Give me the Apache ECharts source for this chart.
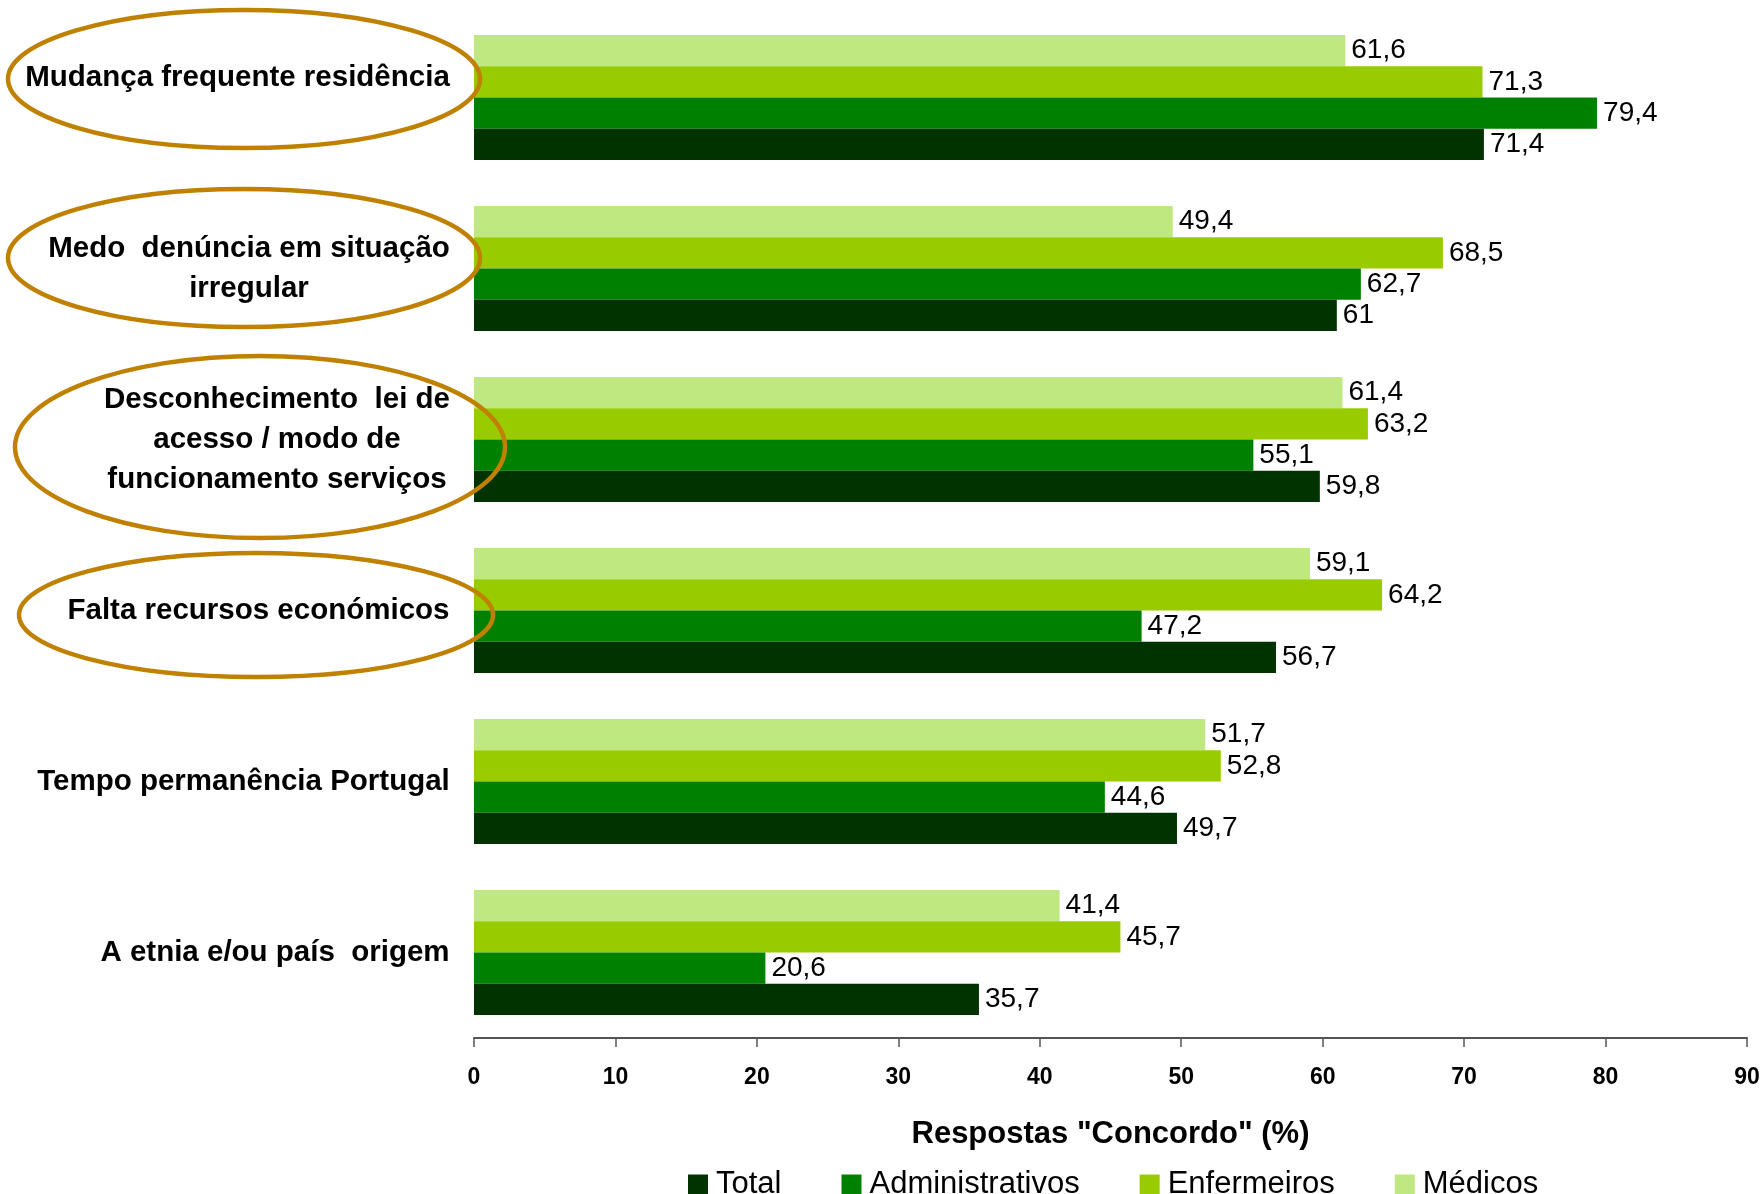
<!DOCTYPE html>
<html>
<head>
<meta charset="utf-8">
<title>Respostas "Concordo" (%)</title>
<script src="https://cdn.jsdelivr.net/npm/echarts@6/dist/echarts.min.js"></script>
<style>
  html, body { margin: 0; padding: 0; background: #ffffff; }
  #chart { width: 1764px; height: 1194px; }
</style>
</head>
<body>
<div id="chart"></div>
<script>
// Barriers to access, one group of bars per reason (top to bottom)
const categories = [
  'Mudança frequente residência\n',
  'Medo  denúncia em situação\nirregular',
  'Desconhecimento  lei de\nacesso / modo de\nfuncionamento serviços',
  'Falta recursos económicos',
  'Tempo permanência Portugal',
  'A etnia e/ou país  origem'
];

const seriesNames = ['Total', 'Administrativos', 'Enfermeiros', 'Médicos'];

const totalValues    = [71.4, 61, 59.8, 56.7, 49.7, 35.7];
const adminValues    = [79.4, 62.7, 55.1, 47.2, 44.6, 20.6];
const nurseValues    = [71.3, 68.5, 63.2, 64.2, 52.8, 45.7];
const doctorValues   = [61.6, 49.4, 61.4, 59.1, 51.7, 41.4];

const xTicks = [0, 10, 20, 30, 40, 50, 60, 70, 80, 90];

const colors = {
  'Total': '#003300',
  'Administrativos': '#008000',
  'Enfermeiros': '#99CC00',
  'Médicos': '#C0E880'
};

const FONT = '"Liberation Sans", Arial, "Helvetica", sans-serif';
const CAT_FONT_SIZE = 29.5;

// Multi-line category labels: lines centred on each other, block right-aligned
const measureCtx = document.createElement('canvas').getContext('2d');
measureCtx.font = 'bold ' + CAT_FONT_SIZE + 'px ' + FONT;
const catRich = {};
categories.forEach((c, i) => {
  const w = Math.max(...c.split('\n').map(l => measureCtx.measureText(l).width));
  catRich['r' + i] = {
    width: Math.ceil(w) + 2,
    align: 'center',
    fontSize: CAT_FONT_SIZE,
    fontWeight: 'bold',
    fontFamily: FONT,
    lineHeight: 40,
    color: '#000000'
  };
});

function barSeries(name, values) {
  return {
    name: name,
    type: 'bar',
    data: values,
    barGap: '0%',
    barCategoryGap: '27%',
    itemStyle: { color: colors[name] },
    label: {
      show: true,
      position: 'right',
      distance: 6,
      color: '#000000',
      fontFamily: FONT,
      fontSize: 28,
      formatter: p => String(p.value).replace('.', ',')
    }
  };
}

const ellipseStyle = { fill: 'none', stroke: '#C08000', lineWidth: 4.5 };

const option = {
  animation: false,
  backgroundColor: '#ffffff',
  grid: { left: 474, right: 17, top: 12, bottom: 156, containLabel: false },
  legend: {
    data: seriesNames,
    left: 683,
    top: 1164,
    itemWidth: 20,
    itemHeight: 20,
    itemGap: 60,
    icon: 'rect',
    textStyle: { fontFamily: FONT, fontSize: 31, color: '#000000', padding: [0, 0, 0, 3] }
  },
  xAxis: {
    type: 'value',
    min: xTicks[0],
    max: xTicks[xTicks.length - 1],
    interval: xTicks[1] - xTicks[0],
    name: 'Respostas "Concordo" (%)',
    nameLocation: 'middle',
    nameGap: 81,
    nameTextStyle: { fontFamily: FONT, fontSize: 31, fontWeight: 'bold', color: '#000000' },
    axisLine: { show: true, lineStyle: { color: '#555555', width: 2 } },
    axisTick: { show: true, length: 9, lineStyle: { color: '#555555', width: 1.5 } },
    axisLabel: {
      margin: 28,
      fontFamily: FONT,
      fontSize: 23,
      fontWeight: 'bold',
      color: '#000000'
    },
    splitLine: { show: false }
  },
  yAxis: {
    type: 'category',
    data: categories,
    inverse: true,
    axisLine: { show: false },
    axisTick: { show: false },
    axisLabel: {
      interval: 0,
      margin: 23,
      align: 'right',
      verticalAlign: 'middle',
      formatter: (value, index) =>
        value.split('\n').map(l => '{r' + index + '|' + (l === '' ? ' ' : l) + '}').join('\n'),
      rich: catRich
    }
  },
  series: [
    barSeries('Médicos', doctorValues),
    barSeries('Enfermeiros', nurseValues),
    barSeries('Administrativos', adminValues),
    barSeries('Total', totalValues)
  ],
  // highlighted reasons
  graphic: [
    { type: 'ellipse', z: 100, shape: { cx: 244, cy: 79, rx: 236, ry: 69 }, style: ellipseStyle },
    { type: 'ellipse', z: 100, shape: { cx: 244, cy: 258, rx: 236, ry: 69 }, style: ellipseStyle },
    { type: 'ellipse', z: 100, shape: { cx: 260, cy: 447, rx: 245, ry: 91 }, style: ellipseStyle },
    { type: 'ellipse', z: 100, shape: { cx: 256, cy: 615, rx: 237, ry: 62 }, style: ellipseStyle }
  ]
};

const chart = echarts.init(document.getElementById('chart'), null, { renderer: 'canvas' });
chart.setOption(option);
</script>
</body>
</html>
